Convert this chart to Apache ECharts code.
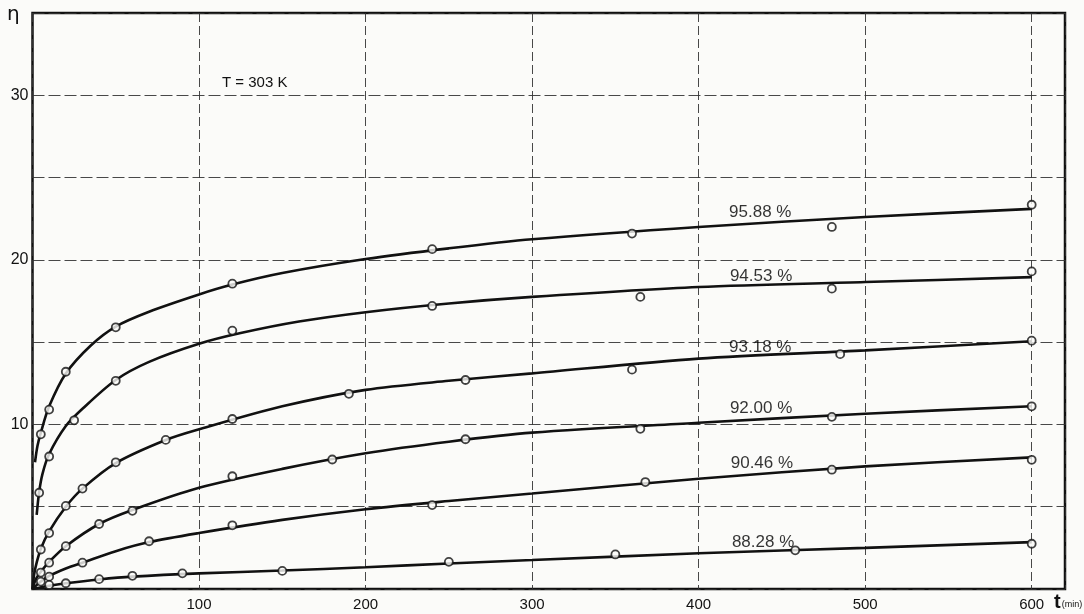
<!DOCTYPE html>
<html><head><meta charset="utf-8">
<script src="https://cdn.jsdelivr.net/npm/echarts@6/dist/echarts.min.js"></script>
<style>html,body{margin:0;padding:0;background:#fbfbf9;}#c{width:1084px;height:614px;}</style>
</head><body><div id="c"></div>
<script>
// ---- data ----
const seriesNames = ['95.88 %', '94.53 %', '93.18 %', '92.00 %', '90.46 %', '88.28 %'];
const xTickLabels = [100, 200, 300, 400, 500, 600];
const yTickLabels = [10, 20, 30];

// measured points (t in min, eta)
const pts_9588 = [[5,9.4],[10,10.9],[20,13.2],[50,15.9],[120,18.55],[240,20.65],[360,21.6],[480,22.0],[600,23.35]];
const pts_9453 = [[4,5.85],[10,8.05],[25,10.25],[50,12.65],[120,15.7],[240,17.2],[365,17.75],[480,18.25],[600,19.3]];
const pts_9318 = [[5,2.4],[10,3.4],[20,5.05],[30,6.1],[50,7.7],[80,9.06],[120,10.33],[190,11.86],[260,12.7],[360,13.33],[485,14.27],[600,15.09]];
const pts_9200 = [[5,1.0],[10,1.6],[20,2.6],[40,3.95],[60,4.75],[120,6.85],[180,7.87],[260,9.1],[365,9.73],[480,10.46],[600,11.1]];
const pts_9046 = [[5,0.45],[10,0.75],[30,1.6],[70,2.9],[120,3.87],[240,5.1],[368,6.5],[480,7.25],[600,7.85]];
const pts_8828 = [[10,0.25],[20,0.35],[40,0.6],[60,0.8],[90,0.95],[150,1.1],[250,1.65],[350,2.1],[458,2.35],[600,2.75]];

// fitted curves as drawn in the reference
const crv_9588 = [[1.5,7.7],[3,8.7],[5,9.5],[10,11.1],[20,13.1],[35,14.8],[50,15.95],[70,16.85],[100,17.9],[120,18.5],[150,19.2],[200,20.05],[250,20.7],[300,21.25],[400,22.0],[500,22.6],[600,23.1]];
const crv_9453 = [[2.5,4.5],[4,5.9],[6,7.0],[10,8.2],[20,9.9],[30,10.95],[50,12.7],[70,13.8],[100,14.9],[125,15.55],[160,16.25],[200,16.82],[250,17.35],[300,17.75],[400,18.35],[500,18.65],[600,18.95]];
const crv_9318 = [[0,0],[1,0.9],[2.5,1.6],[5,2.45],[10,3.5],[20,5.0],[30,6.1],[50,7.65],[80,9.05],[100,9.7],[150,11.1],[200,12.1],[250,12.65],[300,13.1],[400,14.0],[500,14.5],[600,15.05]];
const crv_9200 = [[0,0],[2,0.6],[5,1.05],[10,1.65],[20,2.6],[40,3.95],[60,4.8],[100,6.15],[150,7.3],[200,8.25],[250,8.95],[300,9.5],[400,10.1],[500,10.65],[600,11.1]];
const crv_9046 = [[0,0],[5,0.45],[10,0.8],[20,1.25],[30,1.6],[50,2.3],[70,2.85],[100,3.4],[150,4.2],[200,4.85],[250,5.35],[300,5.8],[400,6.7],[500,7.45],[600,8.0]];
const crv_8828 = [[0,0],[10,0.2],[20,0.35],[40,0.58],[60,0.75],[100,0.95],[150,1.12],[200,1.32],[250,1.55],[300,1.76],[400,2.17],[500,2.5],[600,2.85]];

const allPoints = [pts_9588, pts_9453, pts_9318, pts_9200, pts_9046, pts_8828];
const allCurves = [crv_9588, crv_9453, crv_9318, crv_9200, crv_9046, crv_8828];
// label anchors (t, eta) for curve annotations
const labelAnchors = [[437,22.86],[437.5,19.03],[437,14.71],[437.5,11.0],[438,7.66],[438.7,2.86]];

const chart = echarts.init(document.getElementById('c'), null, {renderer: 'canvas'});
const FONT = 'Liberation Sans';
const series = [];
allCurves.forEach((c, i) => {
  series.push({
    type: 'line', name: seriesNames[i], data: c, showSymbol: false, symbol: 'none',
    smooth: 0.3,
    lineStyle: {color: '#111', width: 2.6}, z: 3, silent: true
  });
});
allPoints.forEach((p, i) => {
  series.push({
    type: 'scatter', name: seriesNames[i] + ' pts', data: p, symbol: 'circle', symbolSize: 8,
    itemStyle: {color: '#fbfbf9', borderColor: '#111', borderWidth: 1.8}, z: 5, silent: true
  });
});
series.push({
  type: 'scatter', name: 'labels', symbolSize: 0, silent: true, z: 6,
  data: labelAnchors.map((a, i) => ({value: a, name: seriesNames[i]})),
  label: {show: true, position: 'inside', formatter: p => p.name, color: '#000',
    fontFamily: FONT, fontSize: 17, letterSpacing: -0.5}
});

chart.setOption({
  backgroundColor: '#fbfbf9',
  animation: false,
  grid: {left: 32.5, top: 13, right: 19, bottom: 25, show: true, borderColor: '#111', borderWidth: 2.5, backgroundColor: 'transparent'},
  xAxis: {
    type: 'value', min: 0, max: 620, interval: 100,
    axisLine: {show: false}, axisTick: {show: false},
    axisLabel: {margin: 8, color: '#111', fontFamily: FONT, fontSize: 15,
      formatter: v => xTickLabels.includes(v) ? String(v) : ''},
    splitLine: {show: true, lineStyle: {color: '#333', width: 0.9, type: [9, 4]}}
  },
  yAxis: {
    type: 'value', min: 0, max: 35, interval: 5,
    axisLine: {show: false}, axisTick: {show: false},
    axisLabel: {margin: 4, color: '#111', fontFamily: FONT, fontSize: 16,
      formatter: v => yTickLabels.includes(v) ? String(v) : ''},
    splitLine: {show: true, lineStyle: {color: '#333', width: 0.9, type: [12, 4]}}
  },
  graphic: [
    {type: 'text', left: 7, top: 5, style: {text: 'η', fontFamily: 'DejaVu Sans', fontSize: 20, fill: '#111'}},
    {type: 'text', left: 222, top: 75, style: {text: 'T = 303 K', fontFamily: FONT, fontSize: 15, fill: '#111'}},
    {type: 'text', left: 1054, top: 592, style: {
      text: '{a|t}{b|(min)}', rich: {
        a: {fontFamily: FONT, fontSize: 20, fontWeight: 'bold', fill: '#111'},
        b: {fontFamily: FONT, fontSize: 9, fill: '#111', padding: [6, 0, 0, 1]}
      }}}
  ],
  series: series
});
</script>
</body></html>
